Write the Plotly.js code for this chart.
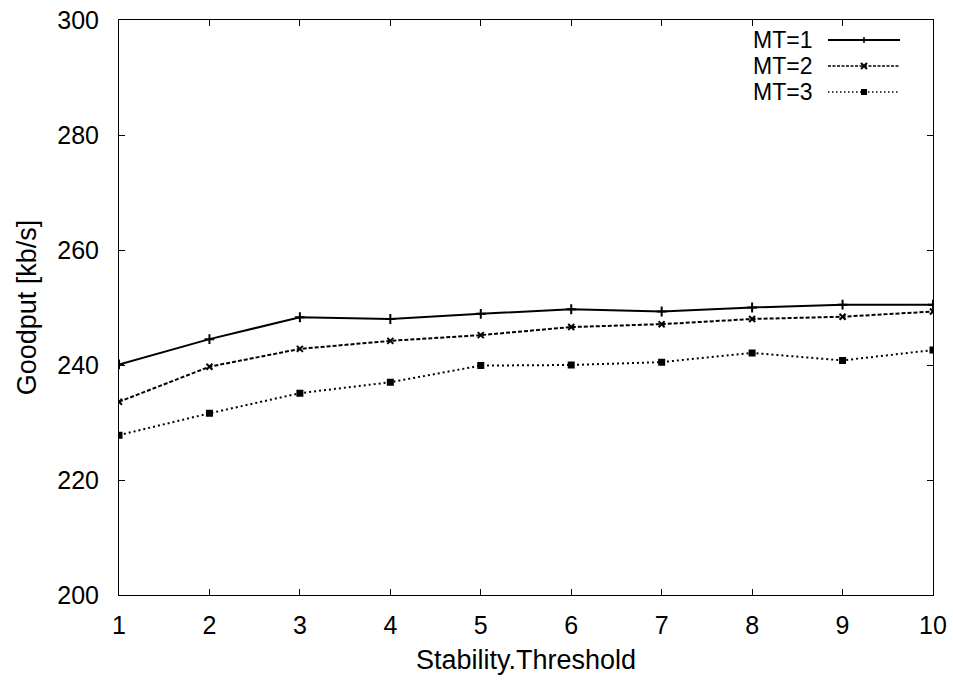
<!DOCTYPE html>
<html><head><meta charset="utf-8">
<script src="https://cdn.plot.ly/plotly-3.0.1.min.js"></script>
<style>html,body{margin:0;padding:0;background:#fff}#chart{width:953px;height:681px}</style>
</head><body><div id="chart"></div>
<script>
const thresholds = [1,2,3,4,5,6,7,8,9,10];
const mt1 = [240.1,244.5,248.3,248.0,248.9,249.7,249.3,250.0,250.5,250.5];
const mt2 = [233.6,239.7,242.8,244.2,245.2,246.6,247.1,248.0,248.4,249.3];
const mt3 = [227.8,231.6,235.1,237.0,239.9,240.0,240.5,242.1,240.8,242.6];
const seriesNames = ['MT=1','MT=2','MT=3'];
const yTicks = [200,220,240,260,280,300];

const FONT = 'Liberation Sans, Arial, sans-serif';
const styles = [
  {dash:'solid', width:2, symbol:'cross-thin', msize:7, legDash:'solid', legW:2},
  {dash:'4px,2px', width:2, symbol:'x-thin', msize:6, legDash:'3px,1.5px', legW:1.5},
  {dash:'2px,3px', width:2, symbol:'square', msize:5, legDash:'1.5px,2.5px', legW:1.5}
];
const data = [mt1, mt2, mt3].map((ys, i) => ({
  x: thresholds, y: ys, type:'scatter', mode:'lines+markers', name: seriesNames[i],
  line:{color:'#000', width:styles[i].width, dash:styles[i].dash},
  marker:{symbol:styles[i].symbol, size:styles[i].msize, color:'#000', line:{color:'#000', width:2}},
  showlegend:false
}));

// custom gnuplot-style legend (text right, sample left)
const legY = [0.9652, 0.92, 0.8748];
const annotations = [], shapes = [];
seriesNames.forEach((n, i) => {
  annotations.push({xref:'paper', yref:'paper', x:0.8526, y:legY[i], xanchor:'right', yanchor:'middle',
    text:n, showarrow:false, borderpad:0, font:{family:FONT, size:23, color:'#000'}});
  shapes.push({type:'line', xref:'paper', yref:'paper', x0:0.871, x1:0.9595, y0:legY[i], y1:legY[i],
    line:{color:'#000', width: styles[i].legW, dash:styles[i].legDash}});
});
// legend markers
const mx = 0.9152;
shapes.push({type:'path', xref:'paper', yref:'paper', xsizemode:'pixel', ysizemode:'pixel', xanchor:mx, yanchor:legY[0],
  path:'M-3,0 L3,0 M0,-3 L0,3', line:{color:'#000', width:1.5}});
shapes.push({type:'path', xref:'paper', yref:'paper', xsizemode:'pixel', ysizemode:'pixel', xanchor:mx, yanchor:legY[1],
  path:'M-3,-3 L3,3 M-3,3 L3,-3', line:{color:'#000', width:2}});
shapes.push({type:'rect', xref:'paper', yref:'paper', xsizemode:'pixel', ysizemode:'pixel', xanchor:mx, yanchor:legY[2],
  x0:-3, x1:3, y0:-3, y1:3, fillcolor:'#000', line:{color:'#000', width:0}});

const layout = {
  width:953, height:681,
  margin:{l:119, r:20, t:20, b:86, pad:0},
  paper_bgcolor:'#fff', plot_bgcolor:'#fff',
  font:{family:FONT, size:25, color:'#000'},
  showlegend:false,
  xaxis:{range:[1,10], tickvals:thresholds, ticktext:thresholds.map(String),
    showgrid:false, zeroline:false, showline:true, linecolor:'#000', linewidth:1, mirror:'allticks',
    ticks:'inside', ticklen:6, tickcolor:'#000', tickwidth:1, ticklabelstandoff:8,
    tickfont:{family:FONT, size:25, color:'#000'},
    title:{text:'Stability.Threshold', font:{family:FONT, size:27, color:'#000'}, standoff:12}},
  yaxis:{range:[200,300], tickvals:yTicks, ticktext:yTicks.map(String),
    showgrid:false, zeroline:false, showline:true, linecolor:'#000', linewidth:1, mirror:'allticks',
    ticks:'inside', ticklen:6, tickcolor:'#000', tickwidth:1, ticklabelstandoff:14,
    tickfont:{family:FONT, size:25, color:'#000'},
    title:{text:'Goodput [kb/s]', font:{family:FONT, size:27, color:'#000'}, standoff:12}},
  annotations: annotations, shapes: shapes
};
Plotly.newPlot('chart', data, layout, {staticPlot:true, displayModeBar:false});
</script></body></html>
